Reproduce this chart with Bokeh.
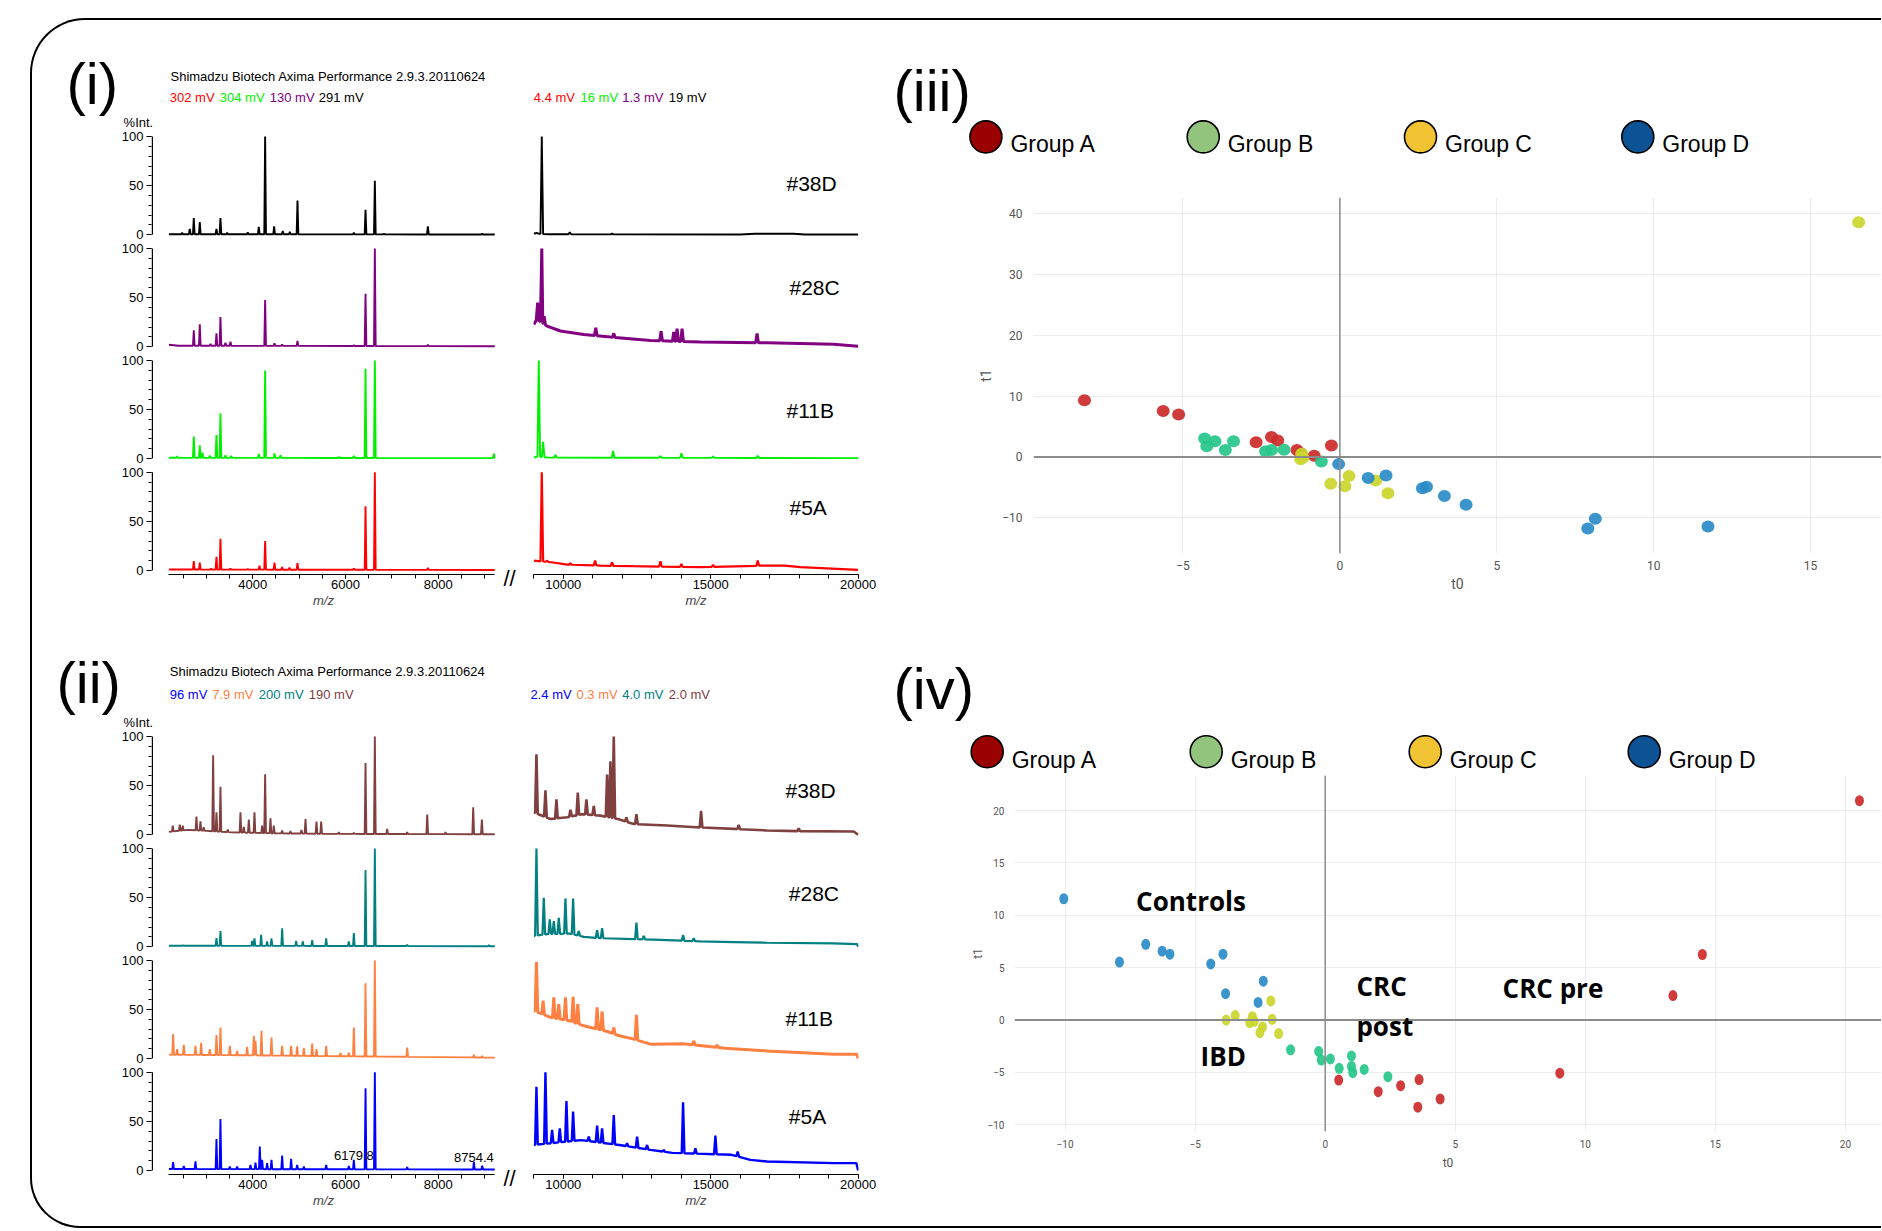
import numpy as np
from bokeh.plotting import figure
from bokeh.layouts import row, column
from bokeh.models import Range1d, FixedTicker, Label, Span, SingleIntervalTicker
from bokeh.core.properties import value
from bokeh.embed import file_html
from bokeh.resources import INLINE

# ======================= DATA =======================
SAMPLES = ["#38D", "#28C", "#11B", "#5A"]

# detector readouts (listed #5A, #11B, #28C, #38D as in the header)
P1_MV_LO = ["302 mV", "304 mV", "130 mV", "291 mV"]
P1_MV_HI = ["4.4 mV", "16 mV", "1.3 mV", "19 mV"]
P2_MV_LO = ["96 mV", "7.9 mV", "200 mV", "190 mV"]
P2_MV_HI = ["2.4 mV", "0.3 mV", "4.0 mV", "2.0 mV"]
HEADER = "Shimadzu Biotech Axima Performance 2.9.3.20110624"

# each trace: (peak m/z, peak %Int., baseline m/z, baseline %Int.)
# ---- panel (i), low m/z window ----
I38D_LO = ([2475, 2640, 2727, 2856, 3216, 3302, 3446, 3892, 4129, 4266, 4460, 4647, 4799, 4964, 6180, 6432, 6633, 6827, 7777, 8950],
           [2, 6, 17, 13, 6, 17, 2, 2.4, 8, 100, 8.5, 4, 3, 35, 2, 25.4, 55, 1, 8.5, 1],
           [2190, 9220], [0.6, 0.3])
I28C_LO = ([2727, 2856, 3086, 3216, 3302, 3410, 3518, 4266, 4468, 4633, 4964, 6180, 6432, 6633, 7777],
           [16.6, 22.7, 3, 13.6, 30.2, 4, 5, 47.5, 3.4, 2.4, 5.8, 1.4, 54, 100, 2],
           [2190, 2400, 9220], [2, 1, 0.5])
I11B_LO = ([2367, 2727, 2856, 2914, 3072, 3216, 3302, 3410, 3532, 4129, 4266, 4468, 4597, 5856, 6180, 6432, 6633, 9201],
           [2.4, 22.4, 13.6, 6, 3, 24, 45.8, 3.4, 2.7, 4.7, 89.8, 5.4, 3.4, 2, 2.7, 91.5, 100, 5],
           [2190, 9220], [0.8, 0.5])
I5A_LO = ([2727, 2856, 3101, 3216, 3302, 3518, 3892, 4144, 4266, 4468, 4633, 4791, 4964, 6180, 6432, 6633, 7777],
          [9.5, 8, 2, 14, 32.4, 2, 1.7, 5, 30, 8, 3.4, 3, 7.4, 2, 65.5, 100, 2.7],
          [2190, 9220], [1, 0.5])
# ---- panel (i), high m/z window ----
I38D_HI = ([9100, 9271, 10220, 11655, 16700],
           [2, 100, 2.7, 1.4, 1.2],
           [9000, 9200, 9500, 16000, 16500, 17800, 18200, 20000], [1.5, 1, 0.5, 0.3, 1, 1, 0.3, 0.3])
I28C_HI = ([9130, 9271, 9350, 11102, 11712, 13316, 13746, 13859, 14028, 16571],
           [45, 100, 31, 19.3, 13.6, 15.9, 14.9, 18.3, 18.3, 13.6],
           [9000, 9100, 9452, 9904, 10695, 11599, 12955, 14650, 16910, 19170, 19994],
           [22.7, 27.8, 21, 16, 12.5, 9.8, 6.4, 4.7, 4, 2.4, 0.5])
I11B_HI = ([9169, 9316, 9734, 11689, 13294, 14006, 15079, 16593],
           [100, 17, 3.7, 7.8, 2.7, 5.4, 2.4, 3],
           [9000, 9100, 9500, 20000], [1, 2, 1, 0.5])
I5A_HI = ([9271, 9452, 10243, 11079, 11655, 13294, 14006, 15079, 16593],
          [100, 10, 7.4, 10.1, 8.4, 9.5, 6.8, 5.7, 10.1],
          [9000, 9600, 10130, 11260, 12390, 14650, 16800, 17500, 18040, 19994],
          [10, 8.4, 6, 5, 4.4, 3.4, 5, 5, 3.4, 0.7])

# ---- panel (ii), low m/z window ----
II38D_LO = ([2273, 2424, 2489, 2784, 2871, 2942, 3144, 3216, 3302, 3460, 3734, 3806, 3914, 4036, 4201, 4266, 4381, 4453,
             4633, 4813, 5050, 5137, 5374, 5475, 5856, 6180, 6432, 6633, 6899, 7331, 7763, 8158, 8755, 8942],
            [9.4, 10.4, 9.4, 18.5, 13.8, 7.7, 81, 22.8, 49, 5.4, 22.8, 8, 15.4, 22.8, 9.4, 61.7, 16.8, 9.4,
             4.4, 3.7, 5, 16, 13.4, 13.4, 2.7, 2, 73, 100, 6, 2.7, 20.5, 2.7, 27.9, 15.4],
            [2190, 2600, 3000, 3550, 4500, 5500, 9220], [3, 5, 4, 2.5, 1.5, 1, 0.5])
II28C_LO = ([2496, 3216, 3302, 3986, 4036, 4180, 4309, 4403, 4633, 4935, 5079, 5281, 5583, 6072, 6180, 6432, 6633, 7331, 9094],
            [1.5, 8.7, 16, 6, 8.4, 12, 5.4, 8.4, 18.8, 6, 5.4, 6.7, 8.4, 5.4, 13.8, 78, 100, 2, 1.7],
            [2190, 9220], [1, 0.5])
II11B_LO = ([2281, 2367, 2511, 2763, 2885, 3072, 3216, 3302, 3504, 3662, 3878, 4022, 4058, 4187, 4403, 4633, 4827, 4957,
             5101, 5281, 5374, 5583, 5892, 6072, 6180, 6432, 6633, 7331, 8770, 8950],
            [25, 9.6, 14, 13, 16, 9.6, 24, 31.7, 13, 7.8, 12, 23.2, 18, 28.3, 21.5, 13, 13, 12.6,
             10.6, 15.4, 9.6, 13, 5.8, 6, 31.7, 76.8, 100, 11.3, 3.8, 2.7],
            [2190, 3550, 5700, 9220], [4, 3.5, 2.5, 1])
II5A_LO = ([2281, 2511, 2763, 3216, 3302, 3504, 3662, 3950, 4058, 4151, 4201, 4309, 4403, 4633, 4827, 4957, 5101, 5583,
            6072, 6180, 6432, 6633, 7331, 8770, 8950],
           [8.5, 4.7, 9.2, 32, 52.5, 4, 4, 5.8, 8, 24.4, 10.8, 7.5, 10.8, 15.3, 11.9, 5.8, 4, 5.8,
            4.7, 10.8, 83.7, 100, 3.4, 8.5, 5],
           [2190, 9220], [1.5, 1])
# ---- panel (ii), high m/z window ----
II38D_HI = ([9090, 9395, 9768, 10243, 10492, 10785, 11034, 11486, 11599, 11712, 12141, 12480, 14672, 15949, 17983],
            [82, 45.3, 36, 25.5, 43, 36, 29.5, 61.4, 75, 100, 17.8, 21, 24.5, 10, 6.7],
            [9000, 9565, 10130, 10640, 11260, 11850, 12390, 13520, 14500, 15780, 16910, 18040, 19847, 20000],
            [22.8, 16, 17.8, 21, 19.5, 16, 11, 9.4, 7.7, 6, 4.4, 3.7, 3.4, 0])
II28C_HI = ([9090, 9339, 9542, 9678, 9847, 10073, 10333, 10525, 11147, 11316, 12480, 12729, 14062, 14424],
            [100, 49.7, 27.9, 26, 29.5, 49, 49, 16, 16.8, 18.8, 24.5, 11, 12, 8.7],
            [9000, 9450, 10200, 10695, 11260, 12390, 13520, 14650, 15780, 16910, 19170, 19960, 20000],
            [11, 12.8, 13.4, 10, 8.7, 7.7, 6.7, 5.4, 4.7, 4, 3.4, 2.7, 0])
II11B_HI = ([9090, 9316, 9678, 9847, 10073, 10333, 10492, 11147, 11316, 11712, 12480, 14424, 15215],
            [98.3, 59, 62.5, 55.6, 62.5, 63, 55.6, 52.2, 48, 31.7, 44.7, 18, 14],
            [9000, 9565, 10200, 10695, 11500, 11900, 12390, 12955, 14085, 15500, 16910, 19170, 19960, 20000],
            [48.8, 42, 38.6, 33.4, 27.6, 23.2, 19.8, 14.7, 15, 10.5, 7.8, 4.4, 4.4, 0])
II5A_HI = ([9090, 9395, 9621, 9881, 10107, 10333, 10864, 11147, 11316, 11712, 12164, 12503, 12842, 13407, 14062, 14480, 15158, 15915],
           [85.4, 100, 41.4, 43, 70.8, 60, 34.6, 45.8, 43, 56.6, 27.8, 34.6, 26, 21, 69.5, 22.7, 35.6, 19.3],
           [9000, 10600, 11900, 12955, 13700, 15700, 16345, 16910, 19170, 19938, 20000],
           [26, 31, 26, 21, 18, 16, 10.8, 9.2, 7.5, 7.5, 0])
# annotated peaks of #5A (panel ii)
II5A_PEAK_LABEL_MZ = [6180, 8770]
II5A_PEAK_LABEL_TXT = ["6179.8", "8754.4"]

# ---- score plots ----
GROUPS = ["Group A", "Group B", "Group C", "Group D"]
III_A_T0 = [-8.14, -5.63, -5.14, -2.67, -2.18, -1.98, -1.37, -1.25, -0.82, -0.27]
III_A_T1 = [9.31, 7.55, 6.98, 2.39, 3.27, 2.70, 1.13, 0.6, 0.19, 1.89]
III_B_T0 = [-4.31, -3.98, -4.24, -3.65, -3.39, -2.37, -2.18, -1.78, -0.59]
III_B_T1 = [3.02, 2.58, 1.76, 1.13, 2.58, 0.94, 1.13, 1.19, -0.75]
III_C_T0 = [16.53, -1.22, -1.18, -1.25, -0.29, 0.16, 0.29, 1.14, 1.53]
III_C_T1 = [38.6, 0.5, -0.1, -0.4, -4.40, -4.84, -3.14, -3.90, -5.97]
III_D_T0 = [-0.04, 0.90, 1.47, 2.63, 2.76, 3.33, 4.02, 7.90, 8.14, 11.73]
III_D_T1 = [-1.19, -3.46, -3.08, -5.16, -4.91, -6.42, -7.86, -11.76, -10.19, -11.45]

IV_A_T0 = [20.54, 14.50, 13.37, 9.02, 0.52, 2.04, 2.90, 3.61, 3.56, 4.42]
IV_A_T1 = [20.94, 6.26, 2.34, -5.07, -5.72, -6.83, -6.26, -5.68, -8.31, -7.52]
IV_B_T0 = [-1.33, -0.25, -0.15, 0.20, 0.54, 1.01, 1.01, 1.06, 1.50, 2.41]
IV_B_T1 = [-2.84, -2.99, -3.81, -3.71, -4.60, -3.42, -4.42, -5.00, -4.71, -5.40]
IV_C_T0 = [-2.09, -3.46, -3.81, -2.80, -2.90, -2.04, -2.41, -2.51, -1.79, -2.73]
IV_C_T1 = [1.83, 0.43, 0.0, 0.32, -0.25, 0.07, -0.65, -1.19, -1.29, -0.11]
IV_D_T0 = [-10.05, -6.90, -6.27, -5.97, -7.91, -4.40, -3.93, -2.38, -3.83, -2.58]
IV_D_T1 = [11.58, 7.23, 6.58, 6.29, 5.54, 5.36, 6.29, 3.71, 2.52, 1.69]
IV_NOTES = ["Controls", "CRC", "post", "CRC pre", "IBD"]

# ======================= STYLE / LAYOUT =======================
FONT = "Liberation Sans"
P1_COLORS = ["#000000", "#800080", "#00f000", "#ff0000"]   # 38D, 28C, 11B, 5A
P2_COLORS = ["#804040", "#008080", "#ff8040", "#0000ff"]
P1_HI_W = [1.9, 3.0, 1.9, 2.2]
P2_HI_W = [2.6, 2.2, 3.0, 2.4]
LEG_COLORS = ["#990000", "#93c47d", "#f1c232", "#0b5394"]
PT_COLORS = ["#cc2b2b", "#26c78a", "#cbd62c", "#2b8bc8"]
OFFS = [342, 228, 114, 0]          # vertical stacking of the four traces
Y_RANGE = (-4.07, 446.2)
LX0 = 1814.5                       # left edge of low-m/z frame
SCW = 1001                         # width of score-plot column


def spectrum(pk_mz, pk_v, b_mz, b_v, foot):
    pts = [(m, v) for m, v in zip(b_mz, b_v) if all(abs(m - q) > foot for q in pk_mz)]
    for m, v in zip(pk_mz, pk_v):
        for dx in (-foot, foot):
            pts.append((m + dx, float(np.interp(m + dx, b_mz, b_v))))
        pts.append((m, v))
    pts.sort(key=lambda t: t[0])
    return [t[0] for t in pts], [t[1] for t in pts]


def mkfig(**kw):
    p = figure(output_backend="svg", toolbar_location=None, **kw)
    p.outline_line_color = None
    p.background_fill_color = None
    p.border_fill_color = None
    if "frame_align" in p.properties():
        p.frame_align = False
    return p


def blank(width, height):
    p = mkfig(width=width, height=height, x_range=Range1d(0, 1), y_range=Range1d(0, 1),
              min_border_left=0, min_border_right=0, min_border_top=0, min_border_bottom=0,
              x_axis_location=None, y_axis_location=None)
    p.grid.visible = False
    return p


def add_text(p, frame_lb, X, Y, text, size, color="black", align="left", font=FONT,
             style="normal", baseline="middle"):
    fl, fb = frame_lb
    p.add_layout(Label(x=X - fl, y=fb - Y, x_units="screen", y_units="screen", text=text,
                       text_font=font, text_font_size=f"{size}px", text_color=color,
                       text_align=align, text_baseline=baseline, text_font_style=style))


def style_xaxis(ax):
    ax.major_tick_out, ax.major_tick_in = 4, 0
    ax.minor_tick_out, ax.minor_tick_in = 4, 0
    ax.major_label_text_font = FONT
    ax.major_label_text_font_size = "13px"
    ax.major_label_text_color = "black"
    ax.major_label_standoff = 1
    ax.axis_label = "m/z"
    ax.axis_label_text_font = FONT
    ax.axis_label_text_font_size = "13px"
    ax.axis_label_text_font_style = "italic"
    ax.axis_label_standoff = 1


def spec_panel(y0, h, lo, hi, colors, hi_w, mv_lo, mv_hi, cfg, peak_labels=None):
    # ---------- header strip (texts above the spectra) ----------
    hdr = blank(848, 109)
    hb = (32, y0 + 109)
    add_text(hdr, hb, cfg["plabel"][0], y0 + cfg["plabel"][1], cfg["plabel"][2], 58)
    add_text(hdr, hb, cfg["head"][0], y0 + cfg["head"][1], HEADER, 13)
    for x, t, c in zip(cfg["mv_lo_x"], mv_lo, colors[::-1]):
        add_text(hdr, hb, x, y0 + cfg["mv_dy"], t, 13, color=c)
    for x, t, c in zip(cfg["mv_hi_x"], mv_hi, colors[::-1]):
        add_text(hdr, hb, x, y0 + cfg["mv_dy"], t, 13, color=c)
    add_text(hdr, hb, 152.7, y0 + 102, "%Int.", 13, align="right")

    B = h - 3 - 442
    # ---------- low m/z window ----------
    pl = mkfig(width=465, height=h, x_range=Range1d(LX0, 9236), y_range=Range1d(*Y_RANGE),
               min_border_left=119, min_border_right=2, min_border_top=3, min_border_bottom=B)
    pl.grid.visible = False
    for (mz, v, bmz, bv), off, c in zip(lo, OFFS, colors):
        xs, ys = spectrum(mz, v, bmz, bv, 18)
        pl.line(xs, [off + y for y in ys], line_color=c, line_width=1.9)
    yax = pl.yaxis[0]
    yax.ticker = FixedTicker(ticks=[o + t for o in OFFS for t in (0, 50, 100)],
                             minor_ticks=[o + 10 * k for o in OFFS for k in range(11)])
    yax.major_label_overrides = {o + t: str(t) for o in OFFS for t in (0, 50, 100)}
    yax.axis_line_color = None
    yax.major_tick_out, yax.major_tick_in = 5, 0
    yax.minor_tick_out, yax.minor_tick_in = 3, 0
    yax.major_label_text_font = FONT
    yax.major_label_text_font_size = "13px"
    yax.major_label_text_color = "black"
    yax.major_label_standoff = 3
    xb = LX0 + 17
    pl.segment(x0=[xb] * 4, y0=OFFS, x1=[xb] * 4, y1=[o + 100 for o in OFFS], line_color="black", line_width=1.4)
    xax = pl.xaxis[0]
    xax.ticker = FixedTicker(ticks=[4000, 6000, 8000], minor_ticks=list(range(2500, 9001, 500)))
    xax.bounds = (2190, 9220)
    style_xaxis(xax)
    if peak_labels:
        hmap = dict(zip(lo[3][0], lo[3][1]))
        pl.text(x=peak_labels[0], y=[OFFS[3] + hmap[m] for m in peak_labels[0]], text=peak_labels[1],
                text_align="center", text_baseline="bottom", text_font=value(FONT),
                text_font_size="13px", text_color="black")

    # ---------- axis break mark ----------
    gap = blank(34, h)
    add_text(gap, (497, y0 + 109 + h), 509, y0 + 558, "//", 22, align="center")

    # ---------- high m/z window ----------
    pr = mkfig(width=349, height=h, x_range=Range1d(8990, 20011), y_range=Range1d(*Y_RANGE),
               min_border_left=2, min_border_right=22, min_border_top=3, min_border_bottom=B,
               y_axis_location=None)
    pr.grid.visible = False
    for (mz, v, bmz, bv), off, c, w in zip(hi, OFFS, colors, hi_w):
        xs, ys = spectrum(mz, v, bmz, bv, 45)
        pr.line(xs, [off + y for y in ys], line_color=c, line_width=w)
    ax = pr.xaxis[0]
    ax.ticker = FixedTicker(ticks=[10000, 15000, 20000], minor_ticks=list(range(9000, 20001, 1000)))
    ax.bounds = (9000, 20000)
    style_xaxis(ax)
    fR = (533, y0 + 554)
    for (x, dy), s in zip(cfg["samp"], SAMPLES):
        add_text(pr, fR, x, y0 + dy, s, 21)
    return column(hdr, row(pl, gap, pr))


CFG1 = dict(plabel=(66, 63, "(i)"), head=(170, 56), mv_dy=77,
            mv_lo_x=[169.3, 219.3, 269.3, 318.3], mv_hi_x=[533.3, 580, 621.7, 668.3],
            samp=[(786, 162.7), (789, 266.7), (786, 390), (789, 487)])
CFG2 = dict(plabel=(56, 62, "(ii)"), head=(169.3, 51), mv_dy=74.3,
            mv_lo_x=[169.3, 211.7, 258.3, 308.3], mv_hi_x=[530, 576, 621.7, 668.3],
            samp=[(785, 170), (788.3, 273.3), (785, 397.7), (788.3, 496)])

panel1 = spec_panel(20, 491, [I38D_LO, I28C_LO, I11B_LO, I5A_LO], [I38D_HI, I28C_HI, I11B_HI, I5A_HI],
                    P1_COLORS, P1_HI_W, P1_MV_LO, P1_MV_HI, CFG1)
panel2 = spec_panel(620, 497, [II38D_LO, II28C_LO, II11B_LO, II5A_LO], [II38D_HI, II28C_HI, II11B_HI, II5A_HI],
                    P2_COLORS, P2_HI_W, P2_MV_LO, P2_MV_HI, CFG2,
                    peak_labels=(II5A_PEAK_LABEL_MZ, II5A_PEAK_LABEL_TXT))


def legend_fig(height, xr, yr, ty, plabel, plabel_xy):
    p = mkfig(width=SCW, height=height, x_range=Range1d(*xr), y_range=Range1d(*yr),
              min_border_left=0, min_border_right=0, min_border_top=0, min_border_bottom=0,
              x_axis_location=None, y_axis_location=None)
    p.grid.visible = False
    idx = list(range(len(GROUPS)))
    p.scatter(x=idx, y=[0] * len(idx), size=32, fill_color=LEG_COLORS, line_color="black", line_width=1.6)
    p.text(x=idx, y=[0] * len(idx), text=GROUPS, x_offset=24.5, y_offset=ty, text_baseline="middle",
           text_font=value(FONT), text_font_size="23px", text_color="black")
    add_text(p, plabel_xy[0], plabel_xy[1], plabel_xy[2], plabel, 58)
    return p


leg3 = legend_fig(177, (-0.4851, 4.1215), (-60.6, 116.4), 7, "(iii)", ((880, 197), 893, 90))
leg4 = legend_fig(155, (-0.4872, 4.0836), (-23.8, 131.2), 8, "(iv)", ((880, 775), 893, 688))


def score_fig(height, L, B, xr, yr, xint, yint, pts, ell, tick_px, lab_px, std):
    p = mkfig(width=SCW, height=height, x_range=Range1d(*xr), y_range=Range1d(*yr),
              min_border_left=L, min_border_right=0, min_border_top=0, min_border_bottom=B)
    xt, yt = SingleIntervalTicker(interval=xint), SingleIntervalTicker(interval=yint)
    p.xaxis.ticker = xt
    p.xgrid.ticker = xt
    p.yaxis.ticker = yt
    p.ygrid.ticker = yt
    p.grid.grid_line_color = "#ececec"
    p.grid.grid_line_width = 1
    for ax, lab in ((p.xaxis[0], "t0"), (p.yaxis[0], "t1")):
        ax.axis_line_color = None
        ax.major_tick_line_color = None
        ax.minor_tick_line_color = None
        ax.major_label_text_font = "Roboto"
        ax.major_label_text_font_size = f"{tick_px}px"
        ax.major_label_text_color = "#555555"
        ax.axis_label = lab
        ax.axis_label_text_font = "Roboto"
        ax.axis_label_text_font_size = f"{lab_px}px"
        ax.axis_label_text_font_style = "normal"
        ax.axis_label_text_color = "#555555"
        ax.major_label_overrides = {-10: "\u221210", -5: "\u22125", -15: "\u221215"}
    p.xaxis[0].major_label_standoff = std[0]
    p.yaxis[0].major_label_standoff = std[1]
    p.xaxis[0].axis_label_standoff = std[2]
    p.yaxis[0].axis_label_standoff = std[3]
    p.add_layout(Span(location=0, dimension="height", line_color="#8c8c8c", line_width=1.5))
    p.add_layout(Span(location=0, dimension="width", line_color="#8c8c8c", line_width=2))
    for (t0, t1), c in zip(pts, PT_COLORS):
        p.ellipse(x=t0, y=t1, width=ell[0], height=ell[1], width_units="screen", height_units="screen",
                  fill_color=c, fill_alpha=0.92, line_color=None)
    return p


sc3 = score_fig(423, 153, 67, (-9.764, 17.259), (-15.89, 42.66), 5, 10,
                [(III_A_T0, III_A_T1), (III_B_T0, III_B_T1), (III_C_T0, III_C_T1), (III_D_T0, III_D_T1)],
                (13, 12), 12, 14, (1, 5, 3, 5))
sc4 = score_fig(451, 134, 95, (-11.945, 21.388), (-10.63, 23.34), 5, 5,
                [(IV_A_T0, IV_A_T1), (IV_B_T0, IV_B_T1), (IV_C_T0, IV_C_T1), (IV_D_T0, IV_D_T1)],
                (9, 11), 10, 12, (2, 4, 5, 0))
NOTE_POS = [(-7.27, 11.41), (1.20, 3.21), (1.20, -0.61), (6.82, 3.02), (-4.79, -3.38)]
for (nx, ny), t in zip(NOTE_POS, IV_NOTES):
    sc4.add_layout(Label(x=nx, y=ny, text=t, text_font="Open Sans", text_font_style="bold",
                         text_font_size="26px", text_color="black", text_baseline="middle", text_align="left"))

top = row(panel1, column(leg3, sc3))
bot = row(panel2, column(leg4, sc4))
root = column(top, bot, margin=(18, 0, 0, 30),
              styles={"border-top": "2px solid #000000", "border-left": "2px solid #000000",
                      "border-bottom": "2px solid #000000", "border-right": "none",
                      "border-radius": "55px 0px 0px 50px"})

open("out.html", "w").write(file_html(root, INLINE))
